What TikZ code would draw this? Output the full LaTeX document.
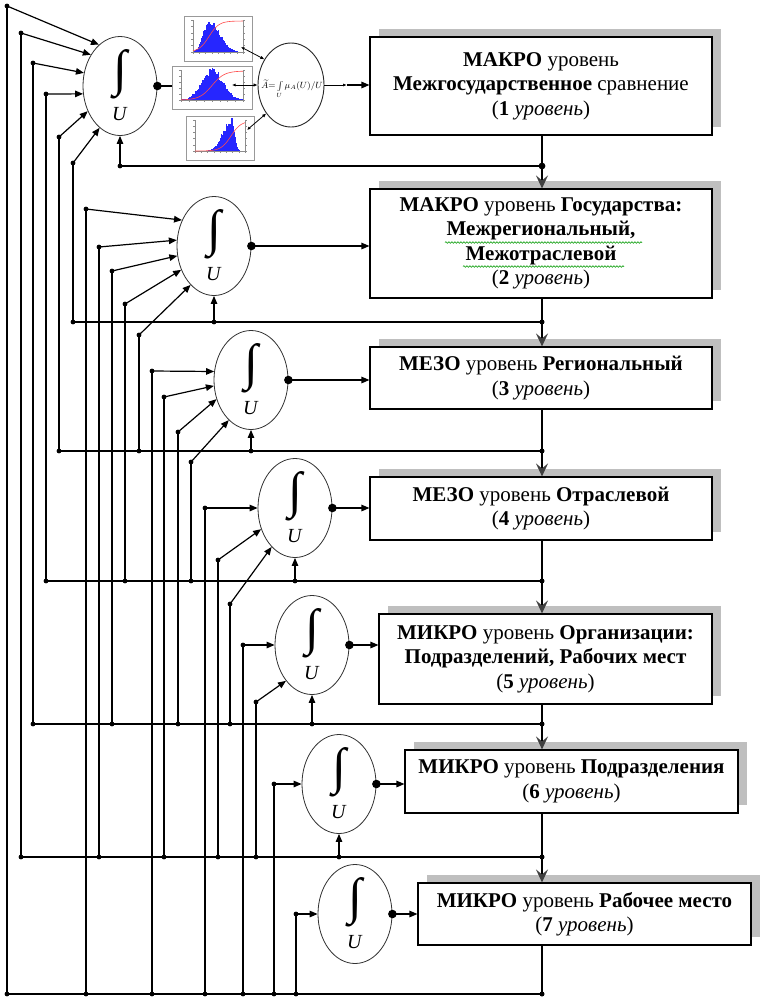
\documentclass[tikz,border=0pt]{standalone}
\usepackage{fontspec}
\setmainfont{Liberation Serif}
\usepackage{amsmath}
\usepackage{graphicx}
\usetikzlibrary{arrows.meta,shapes.geometric,shadows,decorations.pathmorphing,calc}

\tikzset{
 wire/.style={line width=1.2pt, black},
 arr/.style={wire, -{Triangle[length=8pt,width=6.5pt]}},
 barr/.style={wire, -{Stealth[length=13pt,width=12pt,inset=5pt,color=black!75]}},
 sarr/.style={line width=0.8pt, {Latex[length=3.5pt,width=3pt]}-{Latex[length=4pt,width=3.5pt]}},
 integ/.style={ellipse, draw=black!80, line width=0.8pt, minimum width=74pt, minimum height=99pt, inner sep=0pt, fill=white},
 lvl/.style={draw=black, line width=1.1pt, fill=white, align=center, font=\fontsize{21}{24.5}\selectfont, inner sep=0pt,
   general shadow={shadow xshift=9pt, shadow yshift=8pt, fill=black!25}},
 wavy/.style={green!60!black, line width=0.6pt, decorate, decoration={snake, amplitude=0.8pt, segment length=3pt}},
}

\newcommand\intlabel[1]{%
  \node[inner sep=0pt] (#1s) at ($(#1.center)+(0,-12)$) {\resizebox{!}{36pt}{∫}};
  \node[inner sep=0pt, font=\fontsize{20}{24}\selectfont] (#1u) at ($(#1.center)+(0,28)$) {\textit{U}};
}

\newcommand\histo[8]{%
 \node[draw=black!40, line width=0.6pt, fill=white, minimum width=#4pt, minimum height=#5pt, inner sep=0pt, anchor=north west] (#1) at (#2,#3) {};
 \foreach \i in {0,...,44}{%
   \pgfmathsetmacro\myt{\i/44}%
   \pgfmathsetmacro\mys{\myt<#6 ? #7 : #8}%
   \pgfmathsetmacro\myh{(#5-14)*exp(-0.5*((\myt-#6)/\mys)^2)*(0.88+0.24*rnd)}%
   \fill[blue!85!white] ({#2+9+\myt*(#4-18)},{#3+#5-9}) rectangle ({#2+9+(\myt+1/44)*(#4-18)},{#3+#5-9-\myh});
 }
 \draw[black!45, line width=0.3pt] ({#2+9},{#3+4}) -- ({#2+9},{#3+#5-9}) -- ({#2+#4-9},{#3+#5-9}) -- ({#2+#4-9},{#3+4});
 \foreach \k in {0,...,8}{\draw[black!45,line width=0.3pt] ({#2+9+\k*(#4-18)/8},{#3+#5-9}) -- ++(0,2);}
 \foreach \k in {0,...,5}{\draw[black!45,line width=0.3pt] ({#2+9},{#3+4+\k*(#5-13)/5}) -- ++(-2,0);
   \draw[black!45,line width=0.3pt] ({#2+#4-9},{#3+4+\k*(#5-13)/5}) -- ++(2,0);}
 \draw[red!70!white, line width=0.6pt] plot[domain=0:1,samples=40] ({#2+9+\x*(#4-18)},{#3+#5-9-(#5-14)/(1+exp(-(\x-#6)/0.1))});
}

\begin{document}
\begin{tikzpicture}[x=1pt,y=-1pt]
\useasboundingbox (0,0) rectangle (767,1002);
\pgfmathsetseed{7}

% level boxes
\node[lvl, minimum width=342pt, minimum height=98pt] (b1) at (541,86)
  {\textbf{МАКРО} уровень\\\textbf{Межгосударственное} сравнение\\(\textbf{1} \textit{уровень})};
\node[lvl, minimum width=342pt, minimum height=109pt] (b2) at (541,243.5)
  {\textbf{МАКРО} уровень \textbf{Государства:}\\\textbf{Межрегиональный,}\\\textbf{Межотраслевой}\\(\textbf{2} \textit{уровень})};
\node[lvl, minimum width=342pt, minimum height=62pt] (b3) at (541,378)
  {\textbf{МЕЗО} уровень \textbf{Региональный}\\(\textbf{3} \textit{уровень})};
\node[lvl, minimum width=342pt, minimum height=63pt] (b4) at (541,508.5)
  {\textbf{МЕЗО} уровень \textbf{Отраслевой}\\(\textbf{4} \textit{уровень})};
\node[lvl, minimum width=333pt, minimum height=90pt] (b5) at (545.5,659)
  {\textbf{МИКРО} уровень \textbf{Организации:}\\\textbf{Подразделений, Рабочих мест}\\(\textbf{5} \textit{уровень})};
\node[lvl, minimum width=333pt, minimum height=63pt] (b6) at (571.5,781.5)
  {\textbf{МИКРО} уровень \textbf{Подразделения}\\(\textbf{6} \textit{уровень})};
\node[lvl, minimum width=333pt, minimum height=62pt] (b7) at (584.5,914)
  {\textbf{МИКРО} уровень \textbf{Рабочее место}\\(\textbf{7} \textit{уровень})};

\draw[wavy] ($(b2.center)+(-96,-1)$) -- ($(b2.center)+(101,-1)$);
\draw[wavy] ($(b2.center)+(-78,23)$) -- ($(b2.center)+(83,23)$);

% integrator ellipses
\node[integ] (i1) at (120,86) {};
\node[integ] (i2) at (214,246) {};
\node[integ] (i3) at (251,380) {};
\node[integ] (i4) at (295,508) {};
\node[integ] (i5) at (312,645) {};
\node[integ] (i6) at (339,784) {};
\node[integ] (i7) at (355,914) {};
\foreach \n in {i1,i2,i3,i4,i5,i6,i7}{\intlabel{\n}}

% histograms and membership function
\histo{h1}{184}{16}{68}{45}{0.32}{0.12}{0.2}
\histo{h2}{172}{66}{80}{43}{0.5}{0.17}{0.17}
\histo{h3}{186}{116}{68}{44}{0.72}{0.17}{0.06}
\node[ellipse, draw=black!85, line width=0.9pt, minimum width=66pt, minimum height=84pt, inner sep=0pt, fill=white] (f) at (291,85) {};
\node[inner sep=0pt, font=\fontsize{9}{11}\selectfont] (ftext) at (292,89) {$\widetilde{A}{=}\int\limits_U\mu_A(U)/U$};
\coordinate (h1p) at (241,47);
\coordinate (h2p) at (232,85);
\coordinate (h3p) at (247,130);
\draw[sarr] (h1p) -- (f.136);
\draw[sarr] (h2p) -- (f.180);
\draw[sarr] (h3p) -- (f.229);
\coordinate (fm) at (347,85);
\draw[line width=0.8pt, -{Latex[length=4pt,width=3pt]}] (f.east) -- (fm);
\draw[arr] (fm) -- (fm -| b1.west);

% outputs of integrators
\draw[wire] (i1.east) -- (i1.east -| h2.west);
\draw[arr] (i2.east) -- (i2.east -| b2.west);
\draw[arr] (i3.east) -- (i3.east -| b3.west);
\draw[arr] (i4.east) -- (i4.east -| b4.west);
\draw[arr] (i5.east) -- (i5.east -| b5.west);
\draw[arr] (i6.east) -- (i6.east -| b6.west);
\draw[arr] (i7.east) -- (i7.east -| b7.west);
\foreach \n in {i1,i2,i3,i4,i5,i6,i7}{\fill (\n.east) circle[radius=4.3pt];}

% central column and buses
\coordinate (vx) at (542,0);
\coordinate (bus1) at (542,166);
\coordinate (bus2) at (542,322);
\coordinate (bus3) at (542,451);
\coordinate (bus4) at (542,581);
\coordinate (bus5) at (542,724);
\coordinate (bus6) at (542,857);
\coordinate (bus7) at (542,994);

\draw[barr] (b1.south -| vx) -- (b2.north -| vx);
\draw[barr] (b2.south -| vx) -- (b3.north -| vx);
\draw[barr] (b3.south -| vx) -- (b4.north -| vx);
\draw[barr] (b4.south -| vx) -- (b5.north -| vx);
\draw[barr] (b5.south -| vx) -- (b6.north -| vx);
\draw[barr] (b6.south -| vx) -- (b7.north -| vx);
\draw[wire] (b7.south -| vx) -- (bus7);

% inputs
\foreach \x/\yd/\b/\e/\a in {7/6/bus7/i1/117, 21/33/bus6/i1/133, 33/63/bus5/i1/160, 46/94/bus4/i1/192, 59/137/bus3/i1/218, 73/163/bus2/i1/244,
 86/209/bus7/i2/141, 99/247/bus6/i2/171, 112/271/bus5/i2/195, 125/304/bus4/i2/216, 139/335/bus3/i2/239,
 152/371/bus7/i3/167, 164/397/bus6/i3/189, 178/432/bus5/i3/209, 191/462/bus4/i3/241,
 205/508/bus7/i4/180, 218/560/bus6/i4/212, 230/604/bus5/i4/239,
 243/645/bus7/i5/180, 256/702/bus6/i5/234,
 274/784/bus7/i6/180,
 296/914/bus7/i7/180}{
  \coordinate (d\x) at (\x,\yd);
  \coordinate (j\x) at (\b -| d\x);
  \draw[wire] (j\x) -- (d\x);
  \draw[arr] (d\x) -- (\e.\a);
  \fill (d\x) circle[radius=2.4pt];
  \fill (j\x) circle[radius=2.4pt];
}

\draw[wire] (bus1) -- (bus1 -| i1.south);
\draw[wire] (bus2) -- (j73);
\draw[wire] (bus3) -- (j59);
\draw[wire] (bus4) -- (j46);
\draw[wire] (bus5) -- (j33);
\draw[wire] (bus6) -- (j21);
\draw[wire] (bus7) -- (j7);

\foreach \k in {1,...,6}{
  \coordinate (u\k) at (bus\k -| i\k.south);
  \draw[arr] (u\k) -- (i\k.south);
  \fill (u\k) circle[radius=2.4pt];
}
\fill (bus1) circle[radius=3.4pt];
\foreach \k in {2,...,7}{\fill (bus\k) circle[radius=2.5pt];}
\end{tikzpicture}
\end{document}
